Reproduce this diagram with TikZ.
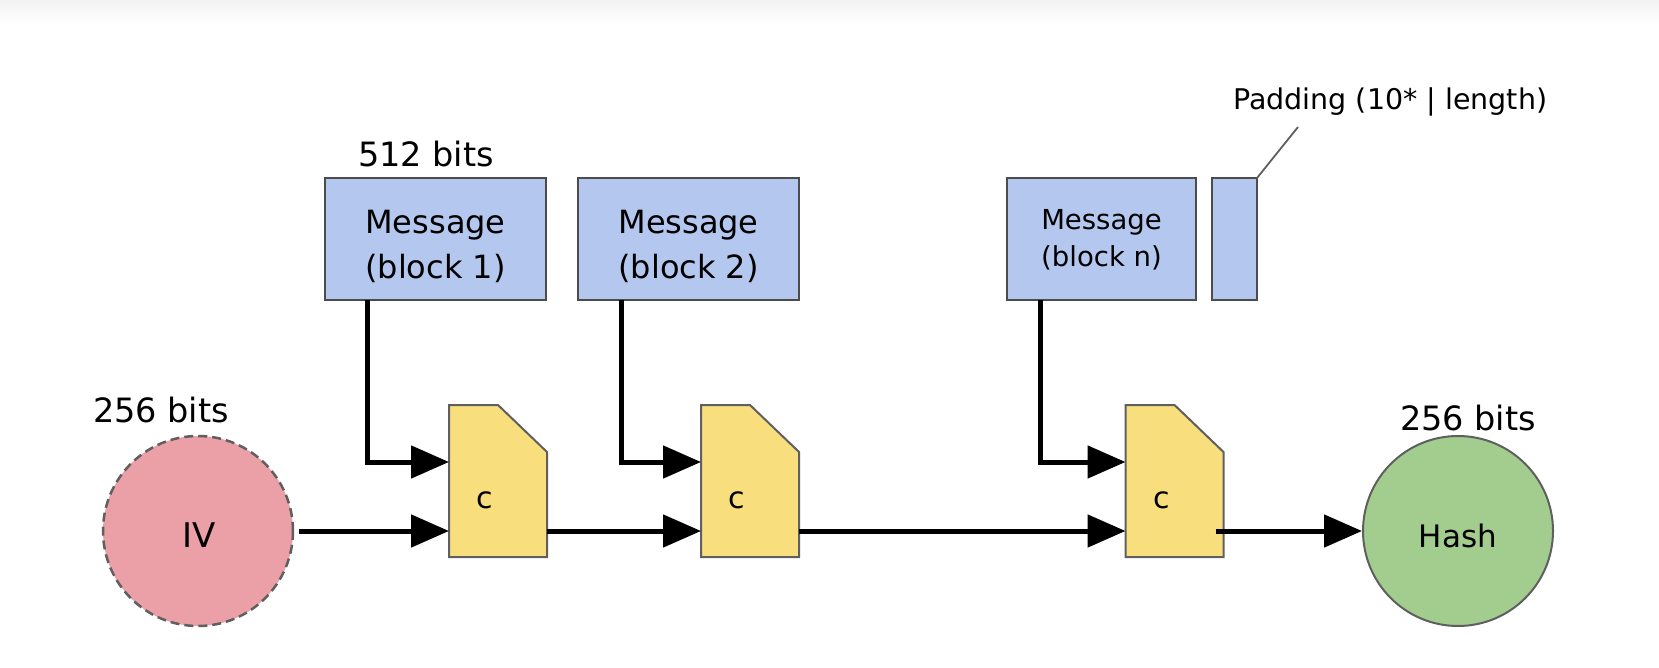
\documentclass[tikz,border=0pt]{standalone}
\usepackage{fontspec}
\setmainfont{DejaVu Sans}
\usetikzlibrary{arrows.meta,calc}
\definecolor{msgblue}{RGB}{180,199,238}
\definecolor{ivpink}{RGB}{234,160,166}
\definecolor{cyellow}{RGB}{249,222,126}
\definecolor{hashgreen}{RGB}{162,205,142}
\definecolor{edgegray}{RGB}{95,95,95}
\tikzset{
  msgbox/.style={rectangle, fill=msgblue, draw=edgegray!80!black, line width=2pt, inner sep=0pt, outer sep=0pt},
  msgtxt/.style={align=center, inner sep=0pt, font=\fontsize{32}{45}\selectfont},
  msgtxtsmall/.style={align=center, inner sep=0pt, font=\fontsize{27.5}{37}\selectfont},
  cnode/.style={rectangle, minimum width=98pt, minimum height=152pt, inner sep=0pt, outer sep=0pt},
  cshape/.style={fill=cyellow, draw=edgegray, line width=2pt, line join=miter},
  ctxt/.style={anchor=base, inner sep=0pt, font=\fontsize{30}{36}\selectfont},
  bitslbl/.style={anchor=base, inner sep=0pt, font=\fontsize{33.5}{40}\selectfont},
  circtxt/.style={anchor=base, inner sep=0pt},
  arr/.style={line width=5pt, -{Triangle[length=38pt,width=32pt]}},
  lead/.style={draw=edgegray, line width=1.8pt},
}
\begin{document}
\begin{tikzpicture}[x=1pt,y=-1pt]
\useasboundingbox (0,0) rectangle (1659,668);
\shade[top color=black!5, bottom color=white] (0,0) rectangle (1659,24);

% message blocks
\node[msgbox, minimum width=221pt, minimum height=122pt] (b1) at (435.5,239) {};
\node[msgbox, minimum width=221pt, minimum height=122pt] (b2) at (688.5,239) {};
\node[msgbox, minimum width=189pt, minimum height=122pt] (bn) at (1101.5,239) {};
\node[msgbox, minimum width=45pt, minimum height=122pt] (pad) at (1234.5,239) {};
\node[msgtxt] (t1) at ($(b1.center)+(0,7.5)$) {Message\\(block 1)};
\node[msgtxt] (t2) at ($(b2.center)+(0,7.5)$) {Message\\(block 2)};
\node[msgtxtsmall] (tn) at ($(bn.center)+(0,1)$) {Message\\(block n)};

% labels
\node[bitslbl] (l512) at (426,167) {512 bits};
\node[bitslbl] (l256a) at (161,422) {256 bits};
\node[bitslbl] (l256b) at (1468,430) {256 bits};
\node[anchor=base west, inner sep=0pt, font=\fontsize{28.5}{34}\selectfont] (padtxt) at (1233,110) {Padding (10* | length)};
\coordinate (padend) at (1298,127);
\draw[lead] (pad.north east) -- (padend);

% IV and Hash
\node[circle, minimum size=190pt, inner sep=0pt, fill=ivpink, draw=edgegray, line width=2.5pt, dash pattern=on 9pt off 5pt] (iv) at (198,531) {};
\node[circtxt, font=\fontsize{34}{40}\selectfont] (ivtxt) at ($(iv.center)+(1,16)$) {IV};
\node[circle, minimum size=190pt, inner sep=0pt, fill=hashgreen, draw=edgegray, line width=2pt] (hash) at (1458,531) {};
\node[circtxt, font=\fontsize{31}{38}\selectfont] (hashtxt) at ($(hash.center)+(0,16)$) {Hash};

% compression boxes
\foreach \n/\cx in {c1/498, c2/750, c3/1174.5} {
  \node[cnode] (\n) at (\cx,481) {};
  \draw[cshape] (\n.south west) -- (\n.north west) -- ($(\n.north west)+(49,0)$) -- ($(\n.north east)+(0,47)$) -- (\n.south east) -- cycle;
  \node[ctxt] at ($(\n.north west)+(36,103)$) {c};
}

% connectors
\draw[arr] ($(b1.south west)+(42,0)$) |- ($(c1.north west)+(0,57)$);
\draw[arr] ($(b2.south west)+(43,0)$) |- ($(c2.north west)+(0,57)$);
\draw[arr] ($(bn.south west)+(33,0)$) |- ($(c3.north west)+(0,57)$);
\draw[arr] ($(iv.east)+(5,0)$) -- ($(c1.south west)+(0,-26)$);
\draw[arr] ($(c1.south east)+(0,-26)$) -- ($(c2.south west)+(0,-26)$);
\draw[arr] ($(c2.south east)+(0,-26)$) -- ($(c3.south west)+(0,-26)$);
\draw[arr] ($(c3.south east)+(-8,-26)$) -- (hash.west);
\end{tikzpicture}
\end{document}
